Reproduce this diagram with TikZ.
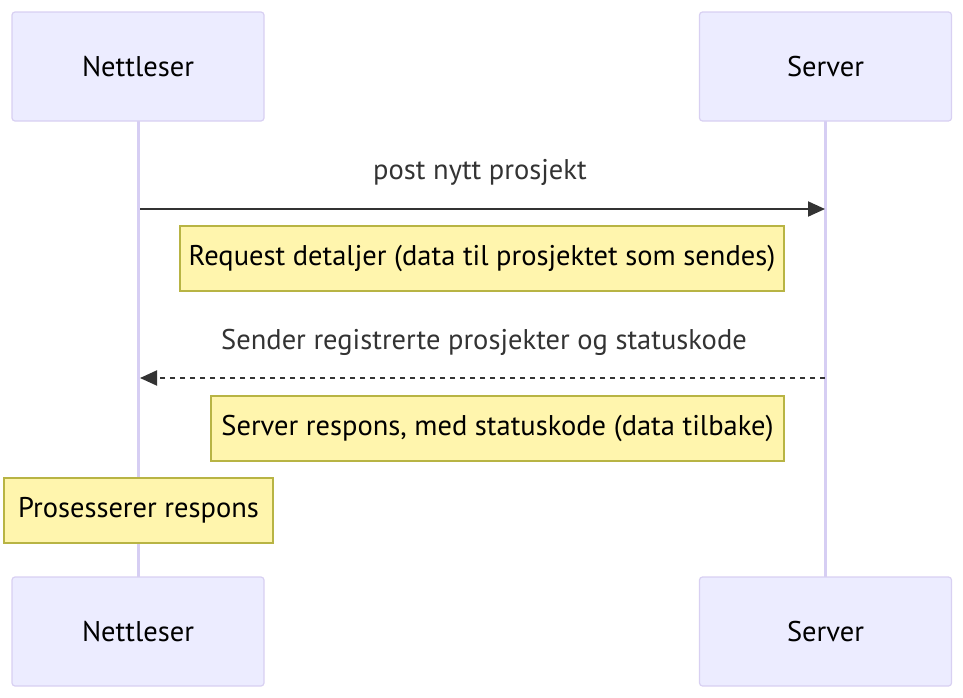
\documentclass[tikz,border=0pt]{standalone}
\usepackage{fontspec}
\setmainfont{PT Sans}
\usetikzlibrary{arrows.meta}
\definecolor{actfill}{HTML}{ECECFF}
\definecolor{actline}{HTML}{D8D0F2}
\definecolor{lifeln}{HTML}{D6CEF3}
\definecolor{notefill}{HTML}{FFF5AD}
\definecolor{noteline}{HTML}{B8B444}
\definecolor{msgcol}{HTML}{333333}
\tikzset{
  actor/.style={draw=actline, fill=actfill, line width=1.2pt, rounded corners=3pt,
    minimum width=252pt, minimum height=109pt, inner sep=0pt, font=\fontsize{28.5}{32}\selectfont},
  note/.style={draw=noteline, fill=notefill, line width=1.2pt, minimum height=65pt,
    inner sep=0pt, font=\fontsize{28.5}{32}\selectfont},
  life/.style={draw=lifeln, line width=3pt},
  msg/.style={draw=msgcol, line width=2pt, -{Triangle[length=17pt,width=15pt]}},
  msgtext/.style={text=msgcol, font=\fontsize{28.5}{32}\selectfont, inner sep=0pt},
}
\begin{document}
\begin{tikzpicture}[x=1pt,y=-1pt]
\useasboundingbox (0,0) rectangle (963,697);
% lifelines
\coordinate (lt) at (138,121);
\coordinate (lb) at (138,577);
\coordinate (rt) at (825,121);
\coordinate (rb) at (825,577);
\draw[life] (lt) -- (lb);
\draw[life] (rt) -- (rb);
% actors
\node[actor] (n1) at (138,66.5) {Nettleser};
\node[actor] (s1) at (825.5,66.5) {Server};
\node[actor] (n2) at (138,631.5) {Nettleser};
\node[actor] (s2) at (825.5,631.5) {Server};
% message 1
\coordinate (m1a) at (140,209);
\coordinate (m1b) at (825,209);
\draw[msg] (m1a) -- (m1b);
\node[msgtext] (t1) at (480,172) {post nytt prosjekt};
% note 1
\node[note, minimum width=604pt] (nt1) at (482,258.5) {Request detaljer (data til prosjektet som sendes)};
% message 2
\coordinate (m2a) at (825,378);
\coordinate (m2b) at (140,378);
\draw[msg, dash pattern=on 5pt off 5pt] (m2a) -- (m2b);
\node[msgtext] (t2) at (484,342) {Sender registrerte prosjekter og statuskode};
% note 2
\node[note, minimum width=573pt] (nt2) at (497.5,428.5) {Server respons, med statuskode (data tilbake)};
% note 3
\node[note, minimum width=269pt] (nt3) at (138.5,510.5) {Prosesserer respons};
\end{tikzpicture}
\end{document}
